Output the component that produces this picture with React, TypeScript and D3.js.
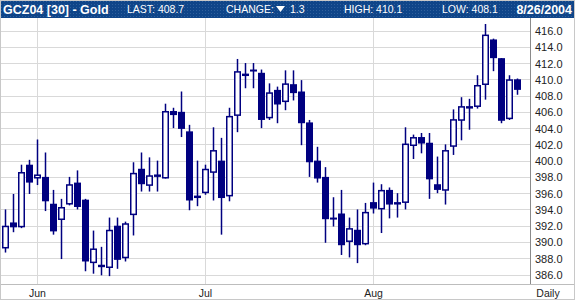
import React from "react";
import * as d3 from "d3";

const dates = [
  "5/25","5/26","5/27","5/28",
  "6/1","6/2","6/3","6/4","6/7","6/8","6/9","6/10","6/14","6/15","6/16","6/17","6/18","6/21","6/22","6/23","6/24","6/25","6/28","6/29","6/30",
  "7/1","7/2","7/6","7/7","7/8","7/9","7/12","7/13","7/14","7/15","7/16","7/19","7/20","7/21","7/22","7/23","7/26","7/27","7/28","7/29","7/30",
  "8/2","8/3","8/4","8/5","8/6","8/9","8/10","8/11","8/12","8/13","8/16","8/17","8/18","8/19","8/20","8/23","8/24","8/25","8/26",
];

const opens = [
  389.2, 392.4, 391.8, 399.5, 397.8, 398.0, 394.7, 392.7, 394.6, 397.3,
  395.2, 387.4, 387.2, 386.8, 392.0, 388.0, 393.3, 399.0, 396.9, 398.3,
  397.8, 406.1, 406.0, 403.6, 395.7, 396.0, 398.5, 400.0, 395.6, 405.5,
  410.4, 411.2, 410.8, 405.2, 408.7, 407.2, 409.4, 408.5, 404.7, 400.0,
  398.0, 393.0, 393.5, 390.0, 391.5, 389.7, 394.9, 394.0, 396.4, 394.6,
  394.8, 401.8, 402.9, 402.2, 397.1, 396.3, 401.7, 404.9, 406.7, 406.6,
  409.3, 414.9, 412.6, 405.1, 410.0,
];
const highs = [
  394.0, 395.9, 399.5, 400.1, 402.6, 401.0, 396.4, 395.3, 398.0, 398.8,
  395.3, 391.4, 389.4, 393.0, 393.0, 392.5, 399.8, 401.0, 400.4, 400.0,
  407.0, 406.5, 408.5, 404.4, 400.0, 399.5, 404.1, 402.8, 406.5, 412.5,
  412.0, 412.0, 411.2, 409.5, 409.1, 411.1, 411.1, 409.9, 405.0, 401.7,
  399.2, 395.5, 396.4, 393.0, 394.0, 394.8, 397.3, 397.1, 396.7, 396.0,
  404.1, 403.2, 403.4, 403.4, 400.5, 402.0, 406.3, 407.8, 407.6, 410.5,
  416.8, 415.0, 412.6, 410.5, 410.1,
];
const lows = [
  388.7, 391.2, 391.7, 395.9, 397.0, 393.8, 390.9, 387.9, 394.5, 394.0,
  386.4, 386.1, 385.9, 385.8, 386.7, 387.6, 390.8, 396.2, 396.2, 396.2,
  397.8, 404.0, 402.9, 393.9, 394.4, 395.8, 395.1, 390.9, 395.0, 403.5,
  408.9, 408.9, 404.0, 405.0, 404.6, 406.2, 407.4, 401.9, 398.0, 397.3,
  389.9, 391.9, 388.4, 388.1, 387.4, 389.6, 393.5, 391.1, 392.9, 393.0,
  394.0, 400.2, 400.9, 395.3, 396.0, 394.6, 400.7, 402.5, 403.8, 406.4,
  407.5, 411.0, 404.6, 405.0, 408.1,
];
const closes = [
  392.0, 391.8, 398.6, 397.3, 398.3, 395.0, 391.3, 394.3, 397.1, 394.3,
  387.6, 389.2, 386.9, 391.5, 387.8, 392.3, 398.5, 397.1, 398.2, 398.0,
  406.1, 405.6, 403.9, 395.1, 395.4, 399.0, 401.3, 395.4, 405.5, 411.0,
  410.7, 411.0, 405.0, 408.4, 406.9, 409.5, 408.3, 404.6, 399.8, 397.8,
  392.8, 392.8, 389.6, 391.7, 389.6, 393.7, 394.1, 396.4, 394.6, 394.9,
  402.1, 402.9, 402.1, 397.7, 396.4, 401.3, 405.1, 406.7, 406.4, 409.3,
  415.5, 412.6, 404.9, 410.0, 408.7,
];

const yTicks = [386, 388, 390, 392, 394, 396, 398, 400, 402, 404, 406, 408, 410, 412, 414, 416];
const monthTicks = [
  { date: "6/1", label: "Jun" },
  { date: "7/1", label: "Jul" },
  { date: "8/2", label: "Aug" },
];
const headerTitle = "GCZ04 [30] - Gold";
const headerLast = "LAST: 408.7";
const headerChange = "CHANGE:";
const headerChangeVal = "1.3";
const headerHigh = "HIGH: 410.1";
const headerLow = "LOW: 408.1";
const headerDate = "8/26/2004";
const periodLabel = "Daily";

const W = 575;
const H = 300;
const NAVY = "#000080";
const GRID = "#d9d9d9";
const FONT = "'Liberation Sans', Arial, sans-serif";

export default function App() {
  const x = d3.scaleLinear().domain([0, dates.length - 1]).range([5.5, 517.5]);
  const y = d3.scaleLinear().domain([386, 416]).range([274.5, 30.5]);
  const fmt = d3.format(".1f");
  const plotTop = 18;
  const plotBottom = 284.5;
  const axisX = 530.5;
  const bw = 7;

  return (
    <svg width={W} height={H} style={{ position: "absolute", left: 0, top: 0, background: "#fff" }}>
      <defs>
        <pattern id="dots" width="3" height="3" patternUnits="userSpaceOnUse">
          <rect width="3" height="3" fill="#0f4589" />
          <rect x="1" y="1" width="1" height="1" fill="#2e5f9c" />
        </pattern>
      </defs>
      <rect x={0} y={0} width={W} height={H} fill="#fff" />
      {/* header */}
      <rect x={0} y={0} width={W} height={18} fill="url(#dots)" />
      <g fontFamily={FONT} fill="#fff">
        <text x={3} y={13.5} fontSize={12.5} fontWeight="bold">{headerTitle}</text>
        <text x={127} y={13} fontSize={10.5}>{headerLast}</text>
        <text x={226} y={13} fontSize={10.5}>{headerChange}</text>
        <path d="M276,6 L285,6 L280.5,12 Z" fill="#fff" />
        <text x={290} y={13} fontSize={10.5}>{headerChangeVal}</text>
        <text x={344} y={13} fontSize={10.5}>{headerHigh}</text>
        <text x={442} y={13} fontSize={10.5}>{headerLow}</text>
        <text x={572} y={13.5} fontSize={12.5} fontWeight="bold" textAnchor="end">{headerDate}</text>
      </g>
      {/* horizontal grid */}
      {yTicks.map((t) => (
        <line key={"g" + t} x1={0} x2={axisX} y1={Math.round(y(t)) + 0.5} y2={Math.round(y(t)) + 0.5} stroke={GRID} strokeWidth={1} />
      ))}
      {/* vertical month grid */}
      {monthTicks.map((m) => {
        const xi = Math.round(x(dates.indexOf(m.date)) - 0.5) + 0.5;
        return <line key={"v" + m.label} x1={xi} x2={xi} y1={plotTop} y2={plotBottom} stroke={GRID} strokeWidth={1} />;
      })}
      {/* axis lines */}
      <line x1={axisX} x2={axisX} y1={plotTop} y2={plotBottom} stroke="#8a8a8a" strokeWidth={1} />
      <line x1={0} x2={W} y1={plotBottom} y2={plotBottom} stroke="#bdbdbd" strokeWidth={1} />
      <rect x={0.5} y={0.5} width={W - 1} height={H - 1} fill="none" stroke="#c8c8c8" strokeWidth={1} />
      {/* y labels */}
      <g fontFamily={FONT} fontSize={11} fill="#222">
        {yTicks.map((t) => (
          <text key={"l" + t} x={535} y={y(t) + 4.5}>{fmt(t)}</text>
        ))}
      </g>
      {/* x labels */}
      <g fontFamily={FONT} fontSize={10.5} fill="#222" textAnchor="middle">
        {monthTicks.map((m) => (
          <text key={"x" + m.label} x={x(dates.indexOf(m.date))} y={297}>{m.label}</text>
        ))}
        <text x={548} y={297}>{periodLabel}</text>
      </g>
      {/* candles */}
      <g>
        {dates.map((d, i) => {
          const cx = x(i);
          const o = opens[i], c = closes[i], h = highs[i], l = lows[i];
          const up = c >= o;
          const top = y(Math.max(o, c));
          const bot = y(Math.min(o, c));
          const bh = Math.max(bot - top, 2);
          return (
            <g key={d}>
              <rect x={cx - 0.75} y={y(h)} width={1.5} height={y(l) - y(h)} fill={NAVY} />
              {up ? (
                <rect x={cx - bw / 2 + 0.75} y={top + 0.75} width={bw - 1.5} height={Math.max(bh - 1.5, 0.5)} fill="#fff" stroke={NAVY} strokeWidth={1.5} />
              ) : (
                <rect x={cx - bw / 2} y={top} width={bw} height={bh} fill={NAVY} />
              )}
            </g>
          );
        })}
      </g>
    </svg>
  );
}
